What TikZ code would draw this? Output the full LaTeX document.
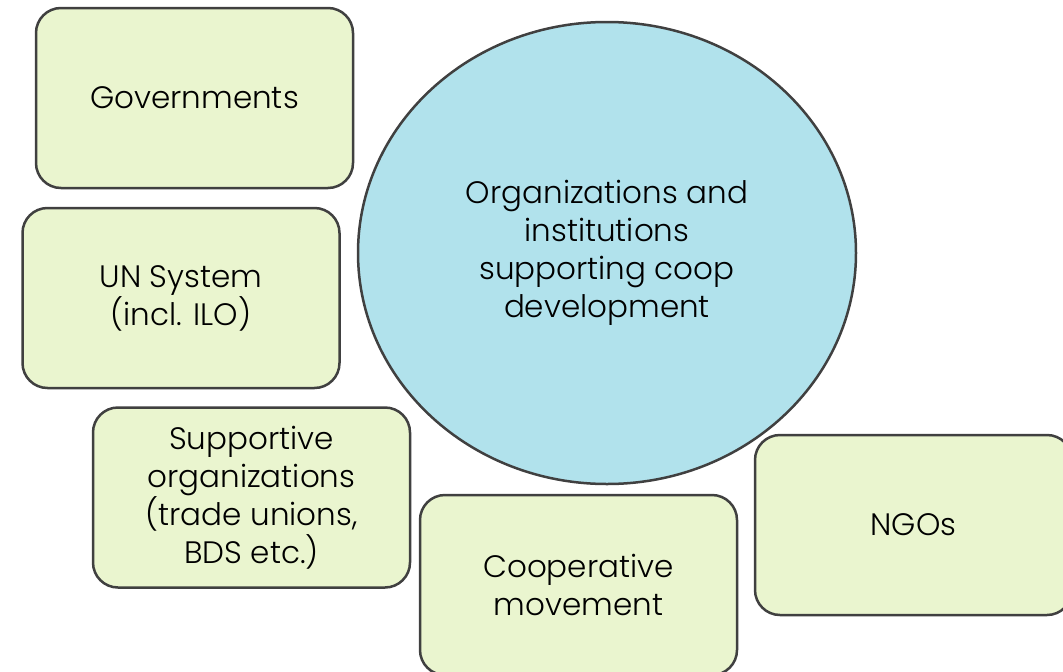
\documentclass[tikz,border=0pt]{standalone}
\usepackage{fontspec}
\setmainfont{Poppins}[UprightFont=* Light]
\usetikzlibrary{shapes.geometric}
\definecolor{boxgreen}{HTML}{EAF5CF}
\definecolor{circblue}{HTML}{B1E2EC}
\definecolor{edgegray}{HTML}{404040}
\begin{document}
\begin{tikzpicture}[x=1pt,y=-1pt]
		\tikzstyle{org}=[fill=boxgreen,draw=edgegray,line width=2.5pt,rounded corners=25pt,minimum width=317pt,minimum height=180pt,align=center,text=black,font=\fontsize{31}{38}\selectfont]
		\tikzstyle{hub}=[fill=circblue,draw=edgegray,line width=2.5pt,ellipse,minimum width=498pt,minimum height=462pt,inner sep=0pt,align=center,text=black,font=\fontsize{31}{38}\selectfont]
		
		\useasboundingbox (0,0) rectangle (1063,672);
		\clip (0,0) rectangle (1063,672);
		\fill[white] (0,0) rectangle (1063,672);
		
		\node[org] (gov) at (194.5,98) {Governments};
		\node[org] (un) at (181,298) {UN System\\(incl. ILO)};
		\node[org] (sup) at (251.5,497.5) {Supportive\\organizations\\(trade unions,\\BDS etc.)};
		\node[org] (coop) at (578.5,585) {Cooperative\\movement};
		\node[org] (ngo) at (913.5,525) {NGOs};
		
		\node[hub] (org) at (607,253) {Organizations and\\institutions\\supporting coop\\development};
	\end{tikzpicture}
\end{document}
